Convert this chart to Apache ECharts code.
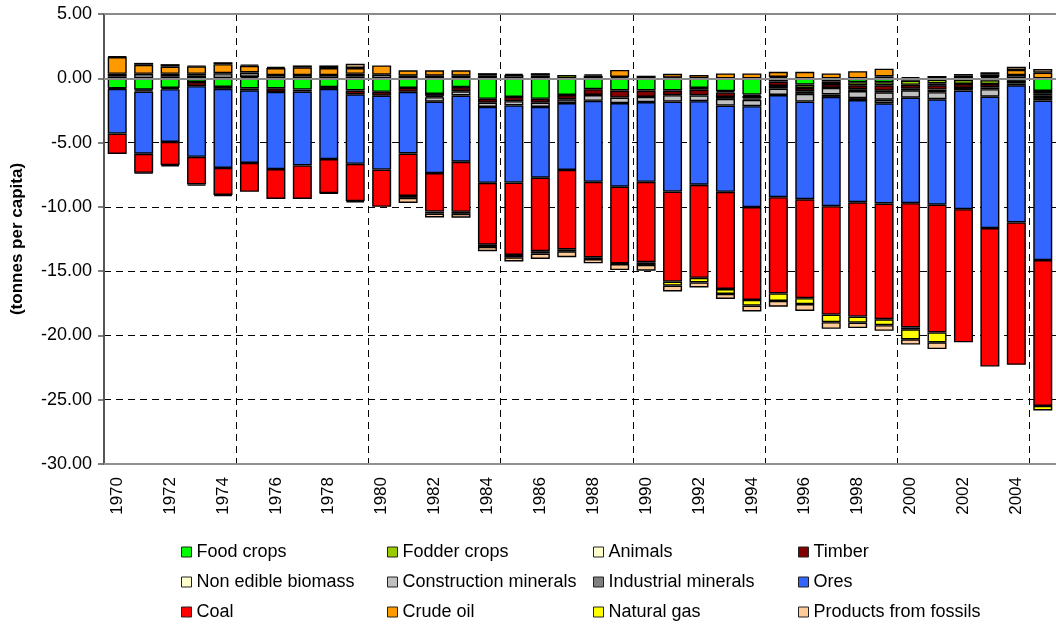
<!DOCTYPE html>
<html>
<head>
<meta charset="utf-8">
<script src="https://cdn.jsdelivr.net/npm/echarts@6/dist/echarts.min.js"></script>
<style>
  html, body { margin: 0; padding: 0; background: #fff; }
  #chart { width: 1056px; height: 624px; }
</style>
</head>
<body>
<div id="chart"></div>
<script>
// Categories
const years = ["1970","1971","1972","1973","1974","1975","1976","1977","1978","1979",
  "1980","1981","1982","1983","1984","1985","1986","1987","1988","1989",
  "1990","1991","1992","1993","1994","1995","1996","1997","1998","1999",
  "2000","2001","2002","2003","2004","2005"];

// Series values (tonnes per capita)
const foodCrops = [-0.78,-0.88,-0.75,-0.28,-0.67,-0.78,-0.78,-0.88,-0.68,-0.95,-1.05,-0.75,-1.22,-0.68,-1.6,-1.45,-1.6,-1.3,-0.85,-0.95,-0.95,-0.95,-0.75,-1.0,-1.27,0,-0.49,-0.25,-0.3,-0.3,-0.18,-0.1,-0.13,-0.15,0,-0.98];
const fodderCrops = [0,-0.05,0,0,0,0,0,0,0,0,0,0,0,0,0,0,0,0.25,0,0,0,0,-0.13,-0.1,-0.1,-0.25,-0.26,-0.2,-0.25,-0.25,-0.33,-0.3,-0.31,-0.3,-0.2,-0.18];
const animals = [0,0,0,0,0,0,0,0,0,0,0,0,-0.15,0,0,0,0,0,0,0,0,0,0,0,0,0,0,0,0,0.15,0.08,-0.15,0,0,0,0];
const timber = [-0.05,-0.1,-0.1,-0.33,-0.15,-0.15,-0.28,-0.15,-0.15,-0.3,-0.3,-0.3,-0.1,-0.33,-0.3,-0.33,-0.3,-0.33,-0.45,-0.55,-0.5,-0.36,-0.45,-0.35,-0.2,-0.35,-0.26,-0.3,-0.3,-0.42,-0.3,-0.33,-0.31,-0.25,-0.2,-0.2];
const nonEdibleBiomass = [0,0,0,0,0,0,0,0,0,0,0,0,0,0,0,0,0,0,0,0,0,0,0,-0.15,-0.1,-0.2,-0.2,0,-0.14,-0.12,-0.13,-0.2,0,-0.15,0,0];
const constructionMinerals = [0.15,0,0.15,0.2,0,0.1,0,0,0,0.15,0,0.2,-0.35,-0.33,-0.33,-0.33,-0.33,0,-0.45,-0.43,-0.4,-0.5,-0.45,-0.52,-0.5,-0.5,-0.6,-0.5,-0.55,-0.57,-0.57,-0.55,-0.21,-0.58,-0.15,-0.18];
const industrialMinerals = [0.2,0.35,0.2,0.15,0.4,0.35,0.25,0.25,0.25,0.2,0.28,0,0.2,0.2,0.2,0.25,0.2,-0.3,0.2,0.1,0.2,0.05,0,0,0,0.1,0,-0.2,-0.15,-0.28,0,0.18,0.2,0.1,0.25,-0.2];
const ores = [-3.47,-4.84,-4.1,-5.5,-6.15,-5.65,-6.0,-5.75,-5.45,-5.4,-5.75,-4.8,-5.55,-5.15,-5.9,-6.0,-5.5,-5.2,-6.3,-6.5,-6.2,-7.0,-6.5,-6.71,-7.85,-7.95,-7.6,-8.5,-7.95,-7.8,-8.2,-8.2,-9.22,-10.22,-10.66,-12.4];
const coal = [-1.59,-1.48,-1.8,-2.15,-2.1,-2.25,-2.33,-2.6,-2.65,-2.9,-2.9,-3.3,-3.0,-3.9,-4.81,-5.63,-5.72,-6.18,-5.88,-5.97,-6.26,-7.0,-7.24,-7.56,-7.22,-7.48,-7.69,-8.43,-8.89,-9.0,-9.66,-9.94,-10.36,-10.77,-11.08,-11.34];
const crudeOil = [1.3,0.7,0.55,0.57,0.7,0.52,0.55,0.6,0.55,0.45,0.72,0.42,0.42,0.42,0.2,0.1,0.2,0,0.1,0.55,0,0.3,0.25,0.38,0.38,0.4,0.5,0.38,0.55,0.6,-0.15,0,0.13,0.22,0.4,0.44];
const naturalGas = [0,-0.05,-0.1,-0.1,-0.1,0,0,0,-0.05,-0.1,0,-0.15,-0.15,-0.15,-0.18,-0.18,-0.19,-0.15,-0.13,-0.05,-0.21,-0.31,-0.36,-0.38,-0.44,-0.59,-0.46,-0.59,-0.47,-0.46,-0.78,-0.77,0,0,0,-0.35];
const productsFromFossils = [0.05,0.15,0.2,0.05,0.15,0.1,0.1,0.15,0.2,0.33,0,-0.4,-0.3,-0.3,-0.33,-0.33,-0.41,-0.45,-0.33,-0.47,-0.44,-0.46,-0.39,-0.39,-0.46,-0.44,-0.54,-0.52,-0.43,-0.44,-0.41,-0.52,0,0.15,0.25,0.28];

// Y tick range
const yMin = -30, yMax = 5, yStep = 5;

const seriesNames = ["Food crops","Fodder crops","Animals","Timber","Non edible biomass",
  "Construction minerals","Industrial minerals","Ores","Coal","Crude oil","Natural gas","Products from fossils"];
const seriesValues = [foodCrops, fodderCrops, animals, timber, nonEdibleBiomass,
  constructionMinerals, industrialMinerals, ores, coal, crudeOil, naturalGas, productsFromFossils];
const seriesColors = ["#00FF00","#99CC00","#FFFFCC","#800000","#FFFFCC",
  "#C0C0C0","#808080","#3366FF","#FF0000","#FF9900","#FFFF00","#FFCC99"];

const FONT = "'Liberation Sans', Arial, Helvetica, sans-serif";

const series = seriesNames.map((name, i) => {
  const s = {
    name: name,
    type: 'bar',
    stack: 'total',
    barWidth: 19,
    data: seriesValues[i].map(v => (v === 0 ? null : v)),
    itemStyle: { color: seriesColors[i], borderColor: '#000', borderWidth: 1.4 },
    emphasis: { disabled: true }
  };
  if (i === 0) {
    s.markLine = {
      silent: true,
      symbol: 'none',
      label: { show: false },
      lineStyle: { type: 'solid', color: '#8a8a8a', width: 2 },
      data: [{ yAxis: 0 }, { yAxis: yMax }]
    };
  }
  return s;
});

const legendCols = [
  { left: 181, data: ["Food crops","Non edible biomass","Coal"] },
  { left: 387, data: ["Fodder crops","Construction minerals","Crude oil"] },
  { left: 593, data: ["Animals","Industrial minerals","Natural gas"] },
  { left: 798, data: ["Timber","Ores","Products from fossils"] }
];

const option = {
  animation: false,
  textStyle: { fontFamily: FONT },
  grid: { left: 104, top: 14, width: 960, height: 450, containLabel: false },
  legend: legendCols.map(c => ({
    left: c.left,
    top: 542,
    height: 82,
    padding: 0,
    orient: 'vertical',
    itemWidth: 10,
    itemHeight: 10,
    itemGap: 10,
    icon: 'rect',
    selectedMode: false,
    itemStyle: { borderColor: '#222', borderWidth: 1 },
    textStyle: { fontFamily: FONT, fontSize: 18, color: '#000', lineHeight: 20 },
    data: c.data
  })),
  xAxis: {
    type: 'category',
    data: years,
    boundaryGap: true,
    axisLine: { onZero: false, lineStyle: { color: '#909090', width: 2 } },
    axisTick: { show: false },
    axisLabel: { interval: 1, rotate: 90, margin: 13, fontFamily: FONT, fontSize: 17, color: '#000' },
    splitLine: { show: true, interval: 4, lineStyle: { color: '#000', type: [7, 5], width: 1 } }
  },
  yAxis: {
    type: 'value',
    min: yMin,
    max: yMax,
    interval: yStep,
    name: '(tonnes per capita)',
    nameLocation: 'middle',
    nameGap: 78,
    nameTextStyle: { fontFamily: FONT, fontSize: 17, fontWeight: 'bold', color: '#000' },
    axisLine: { show: true, lineStyle: { color: '#555', width: 2 } },
    axisTick: { show: true, length: 6, lineStyle: { color: '#555', width: 1.5 } },
    axisLabel: { formatter: v => v.toFixed(2), margin: 12, fontFamily: FONT, fontSize: 18, color: '#000' },
    splitLine: { show: true, showMinLine: false, showMaxLine: false, lineStyle: { color: '#000', type: [7, 5], width: 1 } }
  },
  series: series
};

const chart = echarts.init(document.getElementById('chart'), null, { renderer: 'canvas' });
chart.setOption(option);
</script>
</body>
</html>
